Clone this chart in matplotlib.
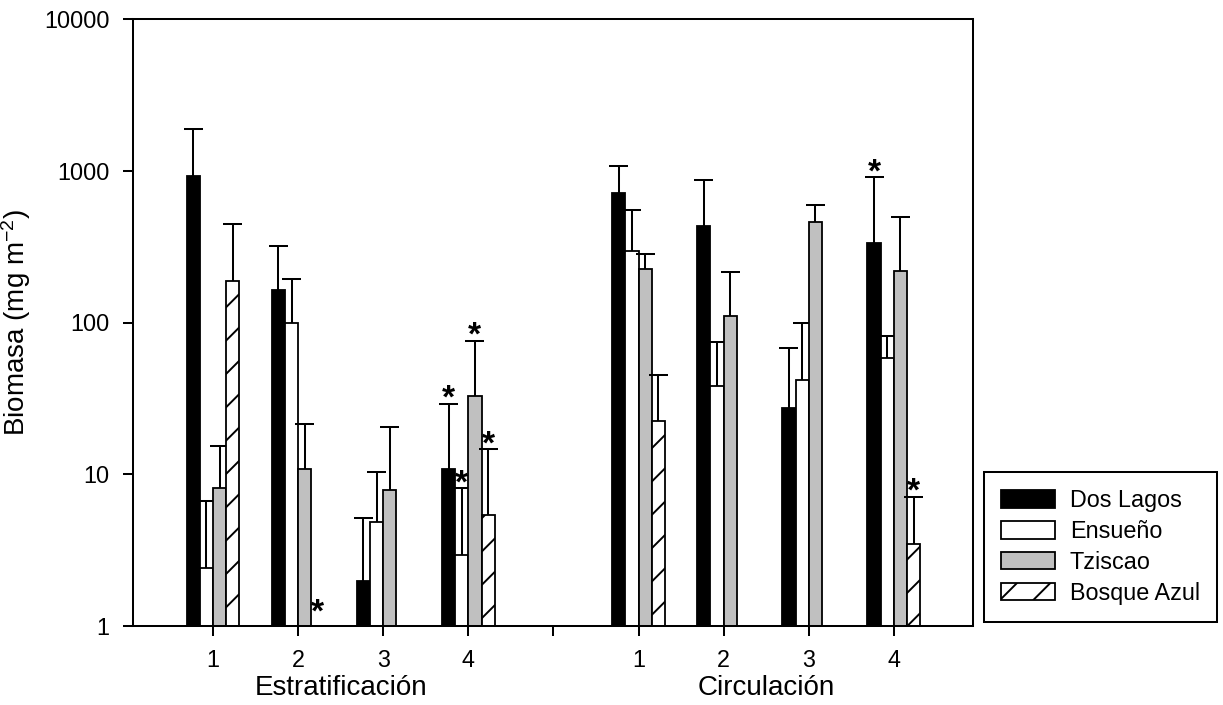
import numpy as np
import matplotlib
matplotlib.use("Agg")
import matplotlib.pyplot as plt
from matplotlib.patches import Patch

plt.rcParams["font.family"] = ["Liberation Sans", "DejaVu Sans"]
plt.rcParams["mathtext.default"] = "regular"
plt.rcParams["hatch.linewidth"] = 1.4

periods = ["Estratificación", "Circulación"]
samplings = ["1", "2", "3", "4"]
sites = ["Dos Lagos", "Ensueño", "Tziscao", "Bosque Azul"]

# mean biomass (mg m-2): stratification 1-4, then circulation 1-4
dos_lagos = [930, 164, 1.98, 10.8, 715, 430, 27.3, 333]
ensueno = [2.42, 98.6, 4.87, 2.94, 298, 37.9, 42, 58.3]
tziscao = [8.17, 10.9, 7.93, 32.6, 225, 110, 460, 219]
bosque_azul = [187, np.nan, np.nan, 5.4, 22.5, np.nan, np.nan, 3.46]

# upper error (same order)
dos_lagos_err = [940, 157, 3.2, 18.3, 356, 441, 40.2, 573]
ensueno_err = [4.26, 95.4, 5.43, 5.16, 251, 36.4, 58, 23.6]
tziscao_err = [7.23, 10.5, 12.67, 43.3, 56, 104, 136, 275]
bosque_azul_err = [260, np.nan, np.nan, 9.2, 22.3, np.nan, np.nan, 3.67]

# significant differences: (site, sampling column)
stars = [(0, 3), (1, 3), (2, 3), (3, 3), (3, 1), (0, 7), (3, 7)]

means = [dos_lagos, ensueno, tziscao, bosque_azul]
errors = [dos_lagos_err, ensueno_err, tziscao_err, bosque_azul_err]
styles = [
    dict(facecolor="black", hatch=None),
    dict(facecolor="white", hatch=None),
    dict(facecolor="#c0c0c0", hatch=None),
    dict(facecolor="white", hatch="/"),
]

x = np.array([0, 1, 2, 3, 5, 6, 7, 8], dtype=float)
width = 0.155
cap = 0.112

W, H, DPI = 1223, 705, 100
fig = plt.figure(figsize=(W / DPI, H / DPI), dpi=DPI)
ax = fig.add_axes([133 / W, 1 - 626 / H, 840 / W, 607 / H])
ax.set_yscale("log")

for i, (vals, errs, st) in enumerate(zip(means, errors, styles)):
    vals = np.asarray(vals, dtype=float)
    errs = np.asarray(errs, dtype=float)
    xi = x + (i - 1.5) * width
    ok = ~np.isnan(vals)
    ax.bar(xi[ok], vals[ok], width=width, color=st["facecolor"],
           edgecolor="black", linewidth=1.3, hatch=st["hatch"], zorder=2 + 2 * i)
    top = vals[ok] + errs[ok]
    ax.vlines(xi[ok], vals[ok], top, color="black", linewidth=1.45, zorder=3 + 2 * i)
    ax.hlines(top, xi[ok] - cap, xi[ok] + cap, color="black", linewidth=1.45,
              zorder=3 + 2 * i)

for site, col in stars:
    xs = x[col] + (site - 1.5) * width
    v = means[site][col]
    if np.isnan(v):
        y, dy = 1.0, 3
    else:
        y, dy = v + errors[site][col], -3
    ax.annotate("*", (xs, y), xytext=(0, dy), textcoords="offset points",
                ha="center", va="baseline", fontsize=24, fontweight="bold",
                zorder=20)

ax.set_ylim(1, 10000)
ax.set_xlim(-0.94, 8.93)
ax.set_yticks([1, 10, 100, 1000, 10000])
ax.set_yticklabels(["1", "10", "100", "1000", "10000"])
ax.yaxis.set_minor_locator(matplotlib.ticker.NullLocator())
ax.set_xticks(np.arange(9))
ax.set_xticklabels(samplings + [""] + samplings)
ax.tick_params(axis="both", direction="out", length=7.2, width=1.45,
               labelsize=16.8, pad=9.6)
for sp in ax.spines.values():
    sp.set_linewidth(1.45)
    sp.set_zorder(30)

ax.set_ylabel("Biomasa (mg m$^{-2}$)", fontsize=20)
ax.yaxis.set_label_coords(-0.119, 0.5)

xtr = ax.get_xaxis_transform()
ax.text(x[:4].mean(), -0.102, periods[0], transform=xtr, ha="center",
        va="center", fontsize=20)
ax.text(x[4:].mean(), -0.102, periods[1], transform=xtr, ha="center",
        va="center", fontsize=20)

handles = [Patch(facecolor=st["facecolor"], edgecolor="black", linewidth=1.3,
                 hatch=st["hatch"]) for st in styles]
leg = fig.legend(handles, sites, loc="upper left",
                 bbox_to_anchor=(984 / W, 1 - 472 / H), borderaxespad=0,
                 fontsize=16.8, frameon=True, fancybox=False, framealpha=1,
                 edgecolor="black", handlelength=2.3, handleheight=0.77,
                 handletextpad=0.64, borderpad=0.73, labelspacing=0.34)
leg.get_frame().set_linewidth(1.45)

fig.savefig("out.png", dpi=DPI)
